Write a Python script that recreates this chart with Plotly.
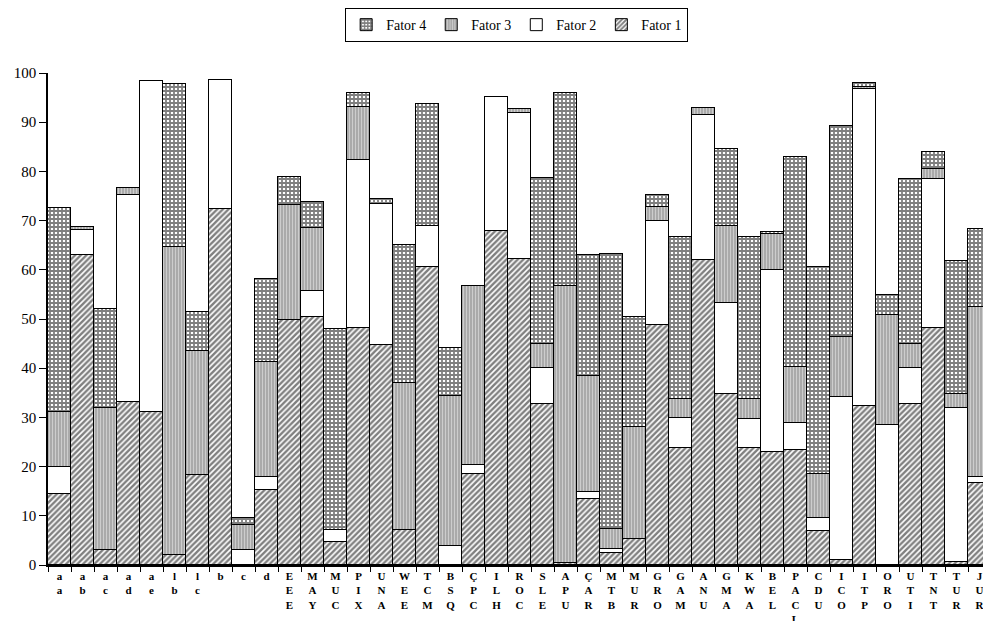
import plotly.graph_objects as go

categories = ["a<br>a", "a<br>b", "a<br>c", "a<br>d", "a<br>e", "l<br>b", "l<br>c", "b", "c", "d",
              "E<br>E<br>E", "M<br>A<br>Y", "M<br>U<br>C", "P<br>I<br>X", "U<br>N<br>A", "W<br>E<br>E",
              "T<br>C<br>M", "B<br>S<br>Q", "Ç<br>P<br>C", "I<br>L<br>H", "R<br>O<br>C", "S<br>L<br>E",
              "A<br>P<br>U", "Ç<br>A<br>R", "M<br>T<br>B", "M<br>U<br>R", "G<br>R<br>O", "G<br>A<br>M",
              "A<br>N<br>U", "G<br>M<br>A", "K<br>W<br>A", "B<br>E<br>L", "P<br>A<br>C<br>L", "C<br>D<br>U",
              "I<br>C<br>O", "I<br>T<br>P", "O<br>R<br>O", "U<br>T<br>I", "T<br>N<br>T", "T<br>U<br>R",
              "J<br>U<br>R"]

fator1 = [14.4, 63.0, 3.0, 33.2, 31.2, 2.0, 18.3, 72.3, 0.0, 15.2,
          49.8, 50.5, 4.7, 48.1, 44.7, 7.1, 60.5, 0.0, 18.5, 67.8,
          62.1, 32.7, 0.4, 13.5, 2.5, 5.2, 48.8, 23.8, 62.0, 34.8,
          23.8, 22.9, 23.4, 6.9, 1.0, 32.3, 0.0, 32.7, 48.1, 0.7,
          16.6]
fator2 = [5.6, 5.1, 0.0, 42.0, 67.2, 0.0, 0.0, 26.3, 3.0, 2.7,
          0.0, 5.1, 2.4, 34.3, 28.7, 0.0, 8.5, 3.9, 1.8, 27.4,
          29.7, 7.4, 0.0, 1.4, 0.7, 0.0, 21.2, 6.0, 29.5, 18.4,
          5.9, 37.1, 5.4, 2.6, 33.2, 64.4, 28.5, 7.3, 30.4, 31.3,
          1.2]
fator3 = [11.2, 0.7, 29.0, 1.5, 0.0, 62.6, 25.1, 0.0, 5.1, 23.4,
          23.4, 12.8, 0.0, 10.7, 0.0, 29.9, 0.0, 30.5, 36.5, 0.0,
          0.9, 4.8, 56.3, 23.5, 4.2, 22.9, 2.8, 3.9, 1.3, 15.8,
          4.0, 7.3, 11.5, 9.0, 12.1, 0.4, 22.3, 4.9, 1.9, 2.8,
          34.7]
fator4 = [41.4, 0.0, 20.0, 0.0, 0.0, 33.1, 8.1, 0.0, 1.4, 16.8,
          5.6, 5.4, 40.8, 2.9, 0.9, 28.0, 24.6, 9.8, 0.0, 0.0,
          0.0, 33.7, 39.2, 24.6, 55.9, 22.4, 2.4, 33.0, 0.0, 15.6,
          33.0, 0.4, 42.7, 42.1, 43.0, 0.9, 4.1, 33.6, 3.6, 27.0,
          15.8]

y_ticks = [0, 10, 20, 30, 40, 50, 60, 70, 80, 90, 100]

serif = "Liberation Serif, Times New Roman, serif"

styles = [
    ("Fator 1", fator1, dict(shape="/", fgcolor="#000000", bgcolor="#ffffff", size=4, solidity=0.6)),
    ("Fator 2", fator2, dict(shape="", fgcolor="#ffffff", bgcolor="#ffffff")),
    ("Fator 3", fator3, dict(shape="|", fgcolor="#f4f4f4", bgcolor="#a6a6a6", size=3, solidity=0.4)),
    ("Fator 4", fator4, dict(shape="+", fgcolor="#000000", bgcolor="#ffffff", size=4, solidity=0.7)),
]

fig = go.Figure()
for name, vals, pat in styles:
    fig.add_trace(go.Bar(
        x=categories, y=vals, name=name,
        marker=dict(color="#ffffff", line=dict(color="#000000", width=1), pattern=pat),
    ))

# page body has an 8px margin, so the figure is sized/offset to compensate
fig.update_layout(
    width=983, height=613,
    barmode="stack", bargap=0,
    plot_bgcolor="#ffffff", paper_bgcolor="#ffffff",
    margin=dict(l=40, r=0, t=65, b=56, autoexpand=False),
    font=dict(family=serif, color="#000000", size=14),
    legend=dict(orientation="h", traceorder="reversed", x=0.497, xanchor="center",
                y=1.132, yanchor="top", bordercolor="#000000", borderwidth=1,
                font=dict(family=serif, size=14), bgcolor="#ffffff",
                itemwidth=30, tracegroupgap=0),
    xaxis=dict(type="category", tickson="boundaries", ticks="outside", ticklen=5,
               tickcolor="#000000", showline=True, linecolor="#000000", linewidth=1.5,
               showgrid=False, tickangle=0, automargin=False,
               tickfont=dict(family=serif, size=11, color="#000000", weight="bold")),
    yaxis=dict(range=[0, 100], tickvals=y_ticks, ticks="outside", ticklen=7,
               tickcolor="#000000", showline=True, linecolor="#000000", linewidth=1.5,
               showgrid=False, zeroline=False, automargin=False,
               tickfont=dict(family=serif, size=15, color="#000000")),
    yaxis2=dict(range=[0, 100], tickvals=y_ticks, ticks="inside", ticklen=8,
                tickcolor="#000000", overlaying="y", side="left", showticklabels=False,
                showgrid=False, zeroline=False, showline=False, automargin=False),
)

fig.write_html("out.html")
